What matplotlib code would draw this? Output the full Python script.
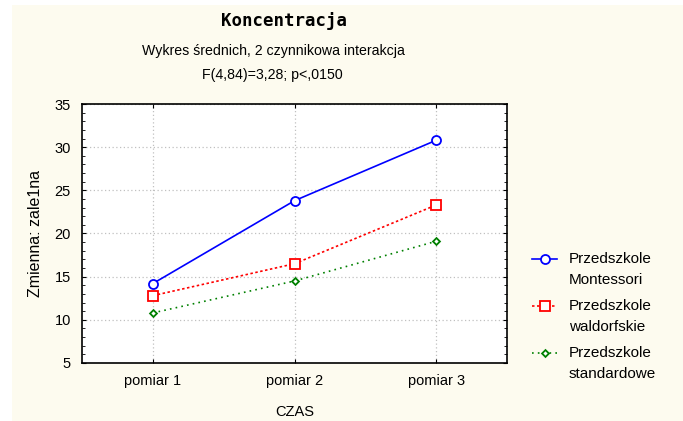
import matplotlib.pyplot as plt
from matplotlib.patches import Rectangle
from matplotlib.lines import Line2D

# Data
pomiary = ["pomiar 1", "pomiar 2", "pomiar 3"]
montessori = [14.2, 23.8, 30.8]
waldorfskie = [12.8, 16.5, 23.3]
standardowe = [10.8, 14.5, 19.1]
etykiety = [("Przedszkole", "Montessori"),
            ("Przedszkole", "waldorfskie"),
            ("Przedszkole", "standardowe")]

W, H = 683, 421
fig = plt.figure(figsize=(W / 100, H / 100), dpi=100)
fig.patch.set_facecolor("white")
# cream panel behind the whole chart
fig.patches.append(Rectangle((12 / W, 0), 1, 1 - 5 / H, transform=fig.transFigure,
                             facecolor="#fdfbef", edgecolor="none", zorder=-1))

ax = fig.add_axes([82 / W, 1 - 363 / H, 425 / W, 259 / H])
ax.set_facecolor("white")

# series styles: colour, linestyle, marker, marker size
styles = [("blue", "-", "o", 6.5),
          ("red", (0, (1.5, 1.5)), "s", 6.5),
          ("green", (0, (1, 2.5)), "D", 3.5)]

x = range(len(pomiary))
for vals, (c, ls, m, ms) in zip([montessori, waldorfskie, standardowe], styles):
    ax.plot(x, vals, color=c, lw=1.2, ls=ls, marker=m, ms=ms,
            mfc="white", mec=c, mew=1.3)

ax.set_xlim(-0.5, 2.5)
ax.set_ylim(5, 35)
ax.set_xticks(list(x))
ax.set_xticklabels(pomiary)
ax.set_yticks(range(5, 36, 5))
ax.set_yticks(range(5, 36, 1), minor=True)
ax.grid(True, which="major", color="#c0c0c0", ls=(0, (1, 2)), lw=0.9)
ax.tick_params(which="both", direction="in", right=True, top=True,
               labelsize=10.5, pad=8)
ax.tick_params(which="minor", length=2, top=False)
ax.tick_params(which="major", length=3)
for s in ax.spines.values():
    s.set_linewidth(1.2)

for lab in ax.get_xticklabels() + ax.get_yticklabels():
    lab.set_fontfamily("Liberation Sans")

ax.set_xlabel("CZAS", fontsize=10.5, family="Liberation Sans", labelpad=12)
ax.set_ylabel("Zmienna: zale1na", fontsize=11.5, family="Liberation Sans", labelpad=8)

fig.text(284 / W, 1 - 21 / H, "Koncentracja", ha="center", va="center",
         fontsize=12.5, fontweight="bold", family="DejaVu Sans Mono")
fig.text(273 / W, 1 - 51 / H, "Wykres średnich, 2 czynnikowa interakcja",
         ha="center", va="center", fontsize=10.2, family="Liberation Sans")
fig.text(272 / W, 1 - 75 / H, "F(4,84)=3,28; p<,0150",
         ha="center", va="center", fontsize=10.2, family="Liberation Sans")

# legend: marker aligned with the first line of each two-line label
for i, ((c, ls, m, ms), (l1, l2)) in enumerate(zip(styles, etykiety)):
    y = 1 - (259 + 47 * i) / H
    fig.add_artist(Line2D([532 / W, 557 / W], [y, y], transform=fig.transFigure,
                          color=c, lw=1.2, ls=ls))
    fig.add_artist(Line2D([545 / W], [y], transform=fig.transFigure, color=c,
                          marker=m, ms=ms, mfc="white", mec=c, mew=1.3))
    fig.text(569 / W, y, l1, ha="left", va="center", fontsize=11,
             family="Liberation Sans")
    fig.text(569 / W, y - 21 / H, l2, ha="left", va="center", fontsize=11,
             family="Liberation Sans")

fig.savefig("out.png", dpi=100)
